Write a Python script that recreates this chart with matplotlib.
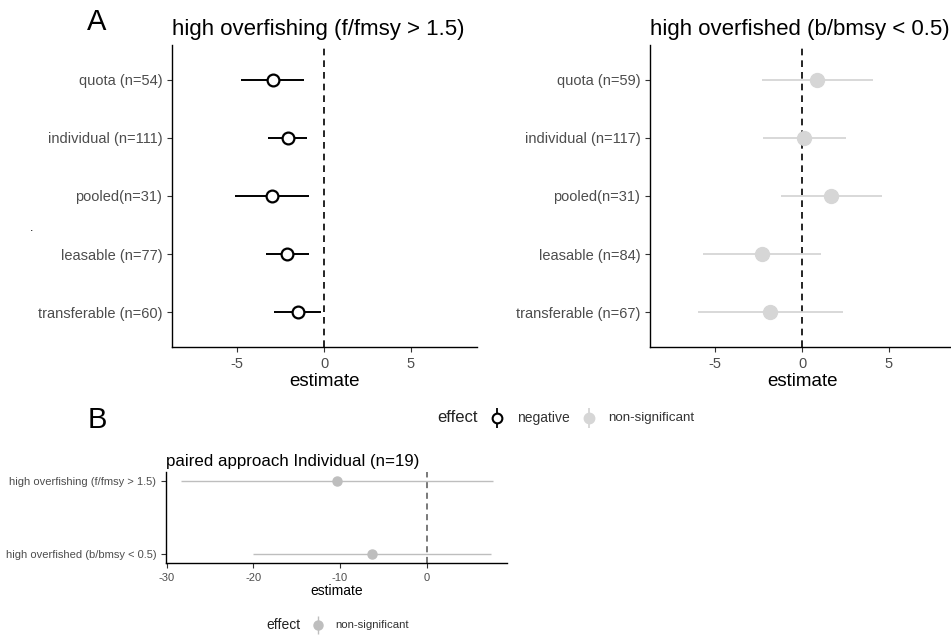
import numpy as np
import matplotlib.pyplot as plt

plt.rcParams['font.family'] = ['Liberation Sans', 'DejaVu Sans']
plt.rcParams['axes.unicode_minus'] = False

# panel A: overfishing (f/fmsy > 1.5)
labels_f = ['quota (n=54)', 'individual (n=111)', 'pooled(n=31)',
            'leasable (n=77)', 'transferable (n=60)']
est_f = [-2.95, -2.07, -2.99, -2.11, -1.49]
lo_f = [-4.79, -3.20, -5.10, -3.35, -2.87]
hi_f = [-1.15, -0.96, -0.88, -0.84, -0.19]

# panel A: overfished (b/bmsy < 0.5)
labels_b = ['quota (n=59)', 'individual (n=117)', 'pooled(n=31)',
            'leasable (n=84)', 'transferable (n=67)']
est_b = [0.88, 0.13, 1.67, -2.30, -1.82]
lo_b = [-2.30, -2.26, -1.19, -5.71, -5.96]
hi_b = [4.06, 2.51, 4.58, 1.11, 2.34]

# panel B: paired approach
labels_p = ['high overfishing (f/fmsy > 1.5)', 'high overfished (b/bmsy < 0.5)']
est_p = [-10.36, -6.28]
lo_p = [-28.4, -20.0]
hi_p = [7.63, 7.48]

W, H = 951, 635
fig = plt.figure(figsize=(W / 100, H / 100), dpi=100)


def box(left, right, top, bottom):
    return [left / W, 1 - bottom / H, (right - left) / W, (bottom - top) / H]


def style(ax, tick_size):
    for s in ['top', 'right']:
        ax.spines[s].set_visible(False)
    for s in ['left', 'bottom']:
        ax.spines[s].set_linewidth(1.0)
        ax.spines[s].set_color('black')
    ax.tick_params(colors='#333333', labelcolor='#4d4d4d', labelsize=tick_size,
                   length=3.5, width=0.8)


def forest(ax, labels, est, lo, hi, filled, title):
    y = np.arange(len(labels))[::-1] + 1
    if filled:
        col = '#d6d6d6'
        ax.hlines(y, lo, hi, color=col, lw=1.3, zorder=2)
        ax.plot(est, y, 'o', ms=10, color=col, mec=col, zorder=3)
    else:
        ax.hlines(y, lo, hi, color='black', lw=1.4, zorder=2)
        ax.plot(est, y, 'o', ms=8.5, mfc='white', mec='black', mew=1.6, zorder=3)
    ax.axvline(0, color='black', ls=(0, (4, 3)), lw=1.2, zorder=1)
    ax.set_xlim(-8.75, 8.8)
    ax.set_ylim(0.4, len(labels) + 0.6)
    ax.set_yticks(y)
    ax.set_yticklabels(labels)
    ax.set_xticks([-5, 0, 5])
    style(ax, 10.5)
    ax.set_xlabel('estimate', fontsize=13.5, labelpad=2)
    ax.set_title(title, loc='left', fontsize=16, pad=7)


ax1 = fig.add_axes(box(172, 477, 45, 347))
forest(ax1, labels_f, est_f, lo_f, hi_f, False, 'high overfishing (f/fmsy > 1.5)')

ax2 = fig.add_axes(box(650, 955, 45, 347))
forest(ax2, labels_b, est_b, lo_b, hi_b, True, 'high overfished (b/bmsy < 0.5)')

# panel B
ax3 = fig.add_axes(box(166, 507, 472, 563))
yp = np.arange(len(labels_p))[::-1] + 1
ax3.hlines(yp, lo_p, hi_p, color='#bebebe', lw=1.0, zorder=2)
ax3.plot(est_p, yp, 'o', ms=6.5, color='#bebebe', zorder=3)
ax3.axvline(0, color='#555555', ls=(0, (4, 3)), lw=1.1, zorder=1)
ax3.set_xlim(-30.1, 9.3)
ax3.set_ylim(0.877, 2.123)
ax3.set_yticks(yp)
ax3.set_yticklabels(labels_p)
ax3.set_xticks([-30, -20, -10, 0])
style(ax3, 8)
ax3.set_xlabel('estimate', fontsize=10, labelpad=1)
ax3.set_title('paired approach Individual (n=19)', loc='left', fontsize=12.2, pad=4)

# legends drawn by hand
fig.text(437 / W, 1 - 418 / H, 'effect', fontsize=12, va='center', color='#222222')
lx = fig.add_axes([0, 0, 1, 1], facecolor='none')
lx.set_axis_off()
lx.set_xlim(0, W)
lx.set_ylim(H, 0)
lx.vlines(497, 408, 428, color='black', lw=1.3)
lx.plot(497, 418, 'o', ms=7, mfc='white', mec='black', mew=1.5)
fig.text(517 / W, 1 - 418 / H, 'negative', fontsize=10, va='center', color='#333333')
lx.vlines(589, 408, 428, color='#d6d6d6', lw=1.3)
lx.plot(589, 418, 'o', ms=7.5, color='#d6d6d6')
fig.text(608 / W, 1 - 418 / H, 'non-significant', fontsize=9.6, va='center', color='#333333')

fig.text(266 / W, 1 - 625 / H, 'effect', fontsize=10, va='center', color='#222222')
lx.vlines(318, 616, 634, color='#bebebe', lw=1.0)
lx.plot(318, 625, 'o', ms=6.5, color='#bebebe')
fig.text(335 / W, 1 - 625 / H, 'non-significant', fontsize=8.2, va='center', color='#333333')

fig.text(97 / W, 1 - 22 / H, 'A', fontsize=21, ha='center', va='center')
fig.text(97 / W, 1 - 420 / H, 'B', fontsize=21, ha='center', va='center')
fig.text(32 / W, 1 - 228 / H, '.', fontsize=9, ha='center', va='center')

fig.savefig('out.png', dpi=100)
